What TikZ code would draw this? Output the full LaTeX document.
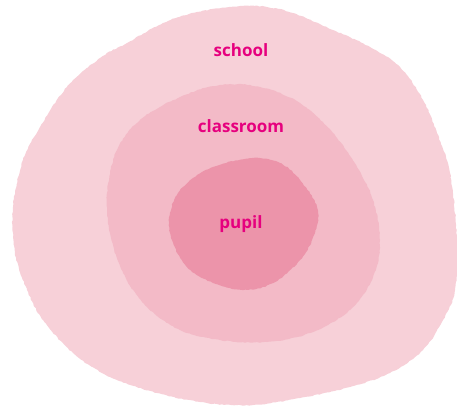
\documentclass[tikz,border=0pt]{standalone}
\usepackage{fontspec}
\setmainfont{Open Sans}
\usetikzlibrary{decorations.pathmorphing}
\definecolor{outerpink}{HTML}{F7D0D8}
\definecolor{midpink}{HTML}{F3BAC7}
\definecolor{innerpink}{HTML}{EC94AA}
\definecolor{labelpink}{HTML}{E6007E}
\tikzset{
  blob/.style={draw=none, decorate, decoration={random steps, segment length=2.5pt, amplitude=0.5pt}},
  lbl/.style={text=labelpink, font=\bfseries\fontsize{17}{20}\selectfont, inner sep=0pt}
}
\begin{document}
\pgfmathsetseed{7}
\begin{tikzpicture}[x=1pt,y=-1pt]
\useasboundingbox (0,0) rectangle (457,408);
% outer blob (school)
\fill[outerpink, blob] plot[smooth cycle, tension=0.6] coordinates {
(240,6) (197,12) (163,23) (127,43) (100,58) (67,87) (40,127) (23,160) (13,207)
(15,253) (27,290) (43,320) (73,353) (110,377) (157,393) (207,403) (253,405)
(300,398) (350,387) (390,373) (423,350) (443,320) (455,290) (457,240) (450,173)
(437,133) (423,100) (400,67) (370,47) (333,30) (293,13) (267,7)};
% middle blob (classroom)
\fill[midpink, blob] plot[smooth cycle, tension=0.6] coordinates {
(220,85) (180,97) (140,120) (117,150) (107,193) (110,233) (123,273) (147,307)
(180,330) (220,340) (267,342) (310,333) (350,310) (373,277) (380,240) (373,200)
(357,167) (333,133) (300,103) (260,87)};
% inner blob (pupil)
\fill[innerpink, blob] plot[smooth cycle, tension=0.6] coordinates {
(253,158) (213,167) (183,187) (170,213) (172,240) (187,267) (213,283) (243,290)
(273,283) (300,260) (315,233) (317,207) (300,180) (280,163)};
\node[lbl] (school) at (241,50) {school};
\node[lbl] (classroom) at (241,126) {classroom};
\node[lbl] (pupil) at (241,224) {pupil};
\end{tikzpicture}
\end{document}
